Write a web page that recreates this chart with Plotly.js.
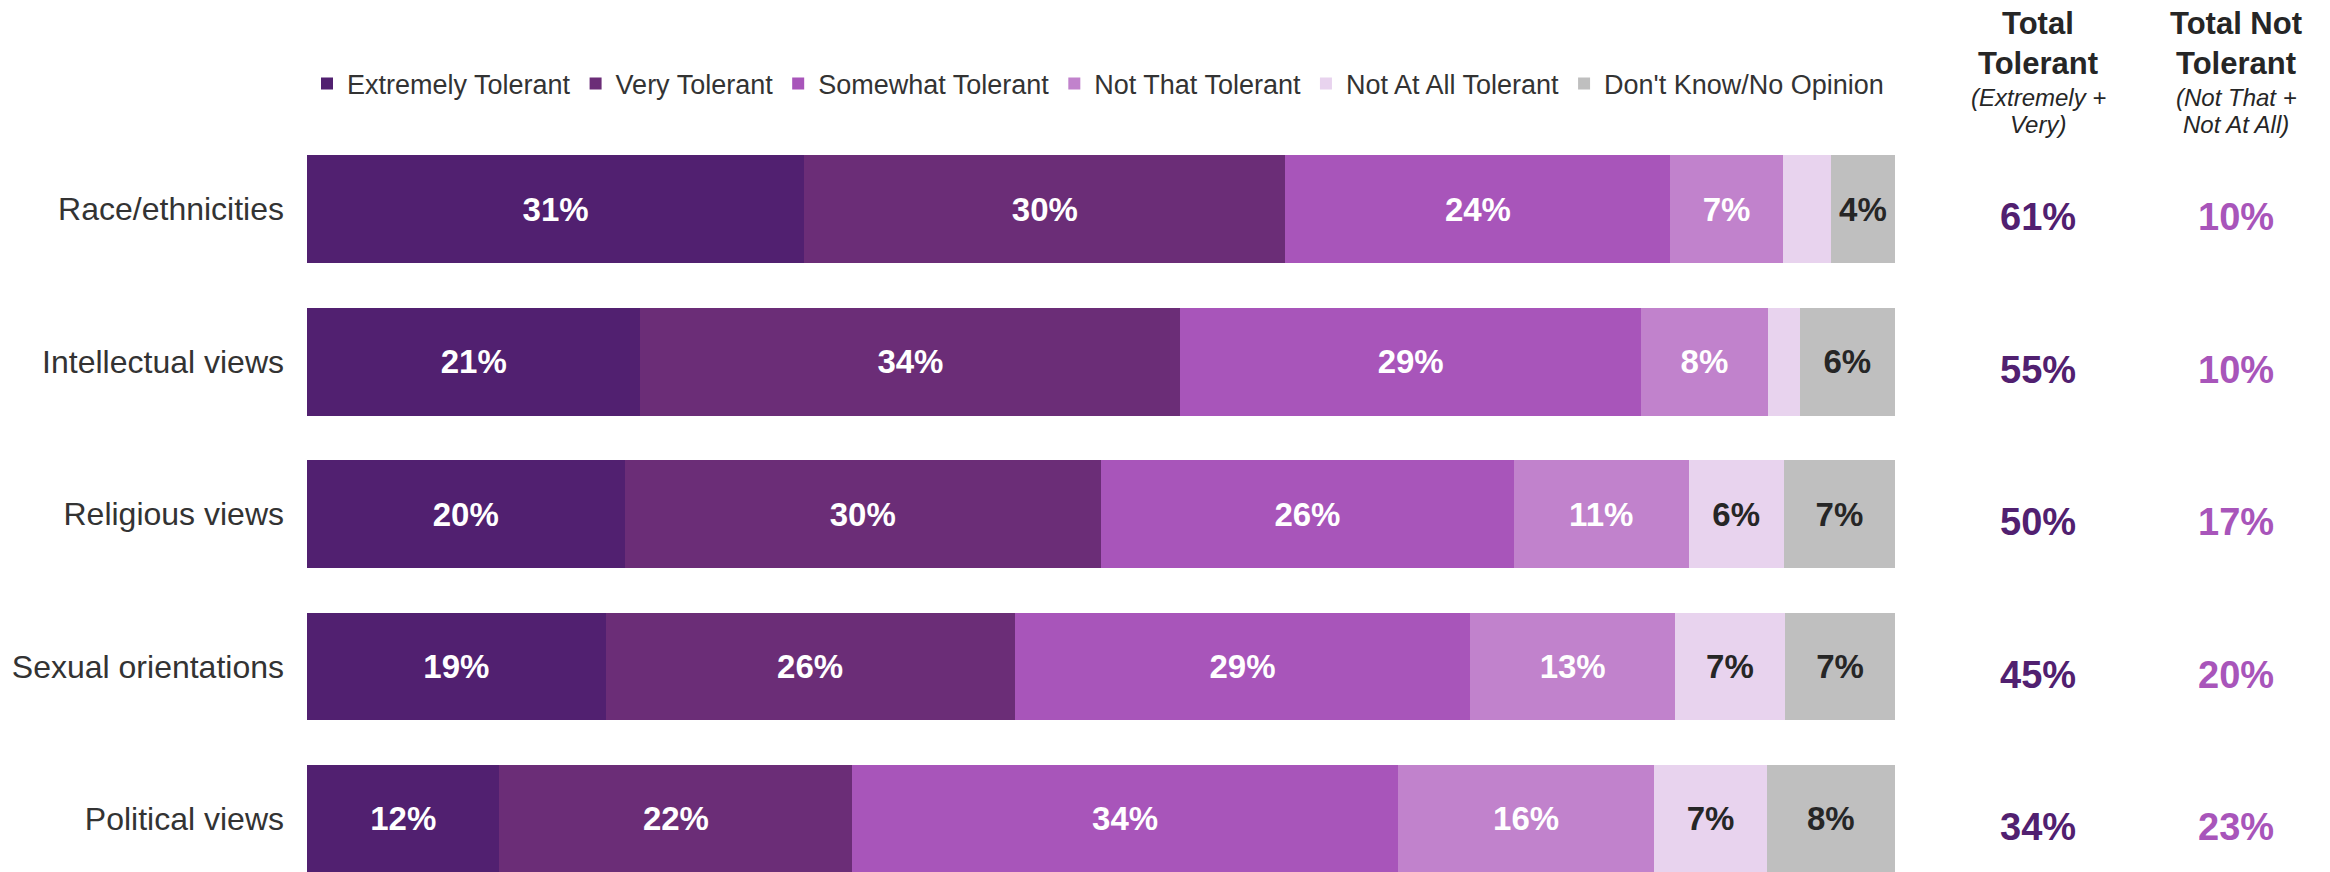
<!DOCTYPE html>
<html>
<head>
<meta charset="utf-8">
<script src="https://cdn.plot.ly/plotly-3.0.1.min.js"></script>
<style>html,body{margin:0;padding:0;background:#fff;}#chart{width:2330px;height:872px;}</style>
</head>
<body>
<div id="chart"></div>
<script>
const categories = ['Race/ethnicities', 'Intellectual views', 'Religious views', 'Sexual orientations', 'Political views'];
const seriesNames = ['Extremely Tolerant', 'Very Tolerant', 'Somewhat Tolerant', 'Not That Tolerant', 'Not At All Tolerant', "Don't Know/No Opinion"];
const extremely = [31, 21, 20, 19, 12];
const very = [30, 34, 30, 26, 22];
const somewhat = [24, 29, 26, 29, 34];
const notThat = [7, 8, 11, 13, 16];
const notAtAll = [3, 2, 6, 7, 7];
const dontKnow = [4, 6, 7, 7, 8];
const totalTolerant = [61, 55, 50, 45, 34];
const totalNotTolerant = [10, 10, 17, 20, 23];
const headerBold = [['Total', 'Tolerant'], ['Total Not', 'Tolerant']];
const headerItalic = [['(Extremely +', 'Very)'], ['(Not That +', 'Not At All)']];

const seriesValues = [extremely, very, somewhat, notThat, notAtAll, dontKnow];
const colors = ['#512070', '#6B2D77', '#A855BA', '#C182CC', '#E8D3EE', '#BFBFBF'];
const textColors = ['#FFFFFF', '#FFFFFF', '#FFFFFF', '#FFFFFF', '#262626', '#262626'];
const FONT = 'Liberation Sans, Arial, Helvetica, sans-serif';

const traces = seriesValues.map((vals, i) => ({
  type: 'bar',
  orientation: 'h',
  name: seriesNames[i],
  y: categories,
  x: vals,
  marker: {color: colors[i], line: {width: 0}},
  text: vals.map(v => v >= 4 ? v + '%' : ''),
  textposition: 'inside',
  insidetextanchor: 'middle',
  textangle: 0,
  constraintext: 'none',
  textfont: {family: FONT, size: 33, color: textColors[i], weight: 'bold'},
  hoverinfo: 'skip'
}));

const plotTop = 133, plotLeft = 307, plotRight = 435, H = 872, W = 2330;
const plotH = H - plotTop;
const plotW = W - plotLeft - plotRight;
const px2paperX = px => (px - plotLeft) / plotW;
const px2paperY = py => 1 + (plotTop - py) / plotH;

const annotations = [];
const colX = [px2paperX(2038), px2paperX(2236)];
const boldY = [24, 64];
const italY = [97, 125];
colX.forEach((cx, c) => {
  headerBold[c].forEach((t, j) => annotations.push({xref: 'paper', yref: 'paper', x: cx, y: px2paperY(boldY[j]),
    xanchor: 'center', yanchor: 'middle', text: '<b>' + t + '</b>', showarrow: false,
    font: {family: FONT, size: 31, color: '#262626'}}));
  headerItalic[c].forEach((t, j) => annotations.push({xref: 'paper', yref: 'paper', x: cx, y: px2paperY(italY[j]),
    xanchor: 'center', yanchor: 'middle', text: '<i>' + t + '</i>', showarrow: false,
    font: {family: FONT, size: 24, color: '#262626'}}));
});
categories.forEach((c, i) => {
  annotations.push({xref: 'paper', yref: 'y', x: colX[0], y: c, yshift: -8, xanchor: 'center', yanchor: 'middle',
    text: '<b>' + totalTolerant[i] + '%</b>', showarrow: false,
    font: {family: FONT, size: 38, color: '#512070'}});
  annotations.push({xref: 'paper', yref: 'y', x: colX[1], y: c, yshift: -8, xanchor: 'center', yanchor: 'middle',
    text: '<b>' + totalNotTolerant[i] + '%</b>', showarrow: false,
    font: {family: FONT, size: 38, color: '#A855BA'}});
});

const layout = {
  width: W, height: H,
  paper_bgcolor: '#FFFFFF', plot_bgcolor: '#FFFFFF',
  margin: {l: plotLeft, r: plotRight, t: plotTop, b: 0, pad: 0, autoexpand: false},
  barmode: 'stack',
  barnorm: 'percent',
  bargap: 0.292,
  showlegend: true,
  legend: {orientation: 'h', x: 0, xanchor: 'left', y: px2paperY(84), yanchor: 'middle',
    font: {family: FONT, size: 27, color: '#333333'}, traceorder: 'normal', itemclick: false, itemdoubleclick: false,
    bgcolor: 'rgba(0,0,0,0)'},
  xaxis: {range: [0, 100], showgrid: false, zeroline: false, showticklabels: false, showline: false, fixedrange: true},
  yaxis: {type: 'category', range: [4.348, -0.5], showgrid: false, zeroline: false, showline: false, ticks: '',
    ticklabelstandoff: 22, automargin: false,
    tickfont: {family: FONT, size: 32, color: '#333333'}},
  annotations: annotations
};

Plotly.newPlot('chart', traces, layout, {displayModeBar: false, staticPlot: true});
</script>
</body>
</html>
